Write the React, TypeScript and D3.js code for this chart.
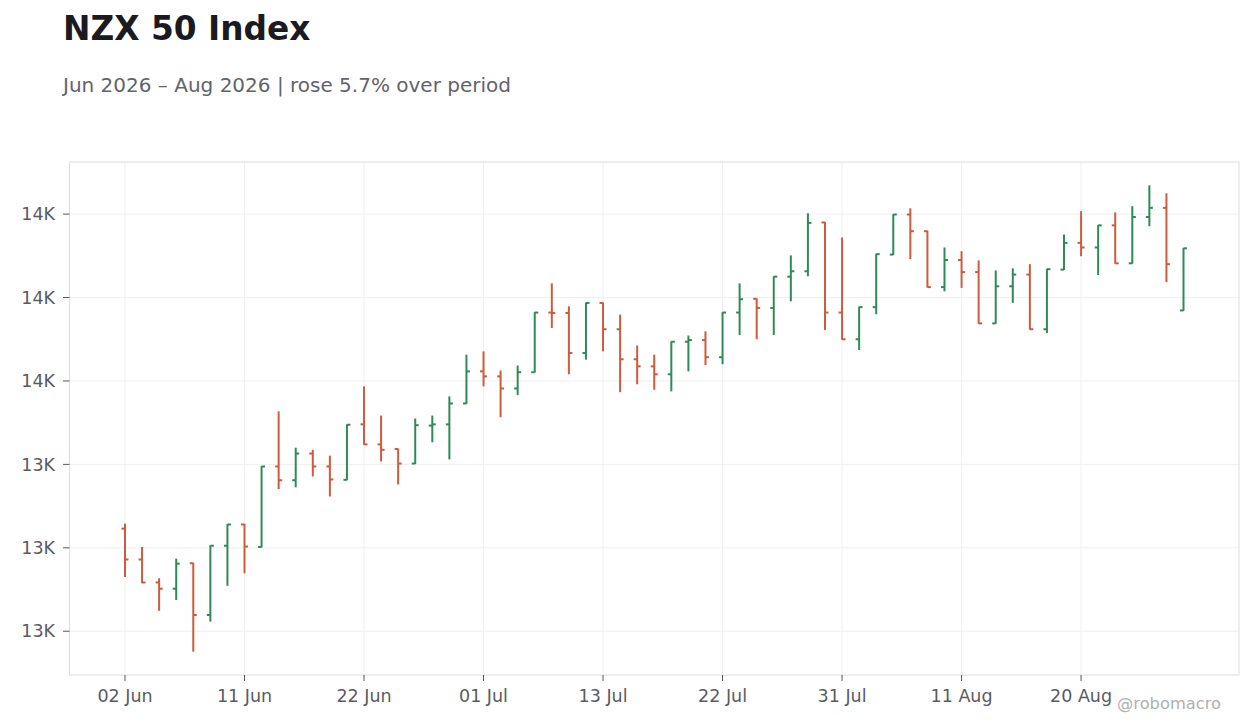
import * as d3 from "d3";
import { useEffect } from "react";

// trading days (NZX, Jun–Aug 2026; 01 Jun King's Birthday and 10 Jul Matariki closed)
const dates = [
  "2026-06-02", "2026-06-03", "2026-06-04", "2026-06-05",
  "2026-06-08", "2026-06-09", "2026-06-10", "2026-06-11", "2026-06-12",
  "2026-06-15", "2026-06-16", "2026-06-17", "2026-06-18", "2026-06-19",
  "2026-06-22", "2026-06-23", "2026-06-24", "2026-06-25", "2026-06-26",
  "2026-06-29", "2026-06-30", "2026-07-01", "2026-07-02", "2026-07-03",
  "2026-07-06", "2026-07-07", "2026-07-08", "2026-07-09",
  "2026-07-13", "2026-07-14", "2026-07-15", "2026-07-16", "2026-07-17",
  "2026-07-20", "2026-07-21", "2026-07-22", "2026-07-23", "2026-07-24",
  "2026-07-27", "2026-07-28", "2026-07-29", "2026-07-30", "2026-07-31",
  "2026-08-03", "2026-08-04", "2026-08-05", "2026-08-06", "2026-08-07",
  "2026-08-10", "2026-08-11", "2026-08-12", "2026-08-13", "2026-08-14",
  "2026-08-17", "2026-08-18", "2026-08-19", "2026-08-20", "2026-08-21",
  "2026-08-24", "2026-08-25", "2026-08-26", "2026-08-27", "2026-08-28",
];

const opens = [
  13246, 13172, 13117, 13102, 13163, 13039, 13205, 13256, 13202, 13395,
  13362, 13426, 13395, 13363, 13496, 13448, 13437, 13402, 13493, 13496,
  13546, 13623, 13611, 13582, 13621, 13764, 13763, 13667, 13787, 13724,
  13652, 13635, 13616, 13694, 13698, 13657, 13764, 13797, 13775, 13850,
  13863, 13980, 13764, 13700, 13777, 13903, 13999, 13959, 13825, 13890,
  13861, 13738, 13827, 13855, 13724, 13867, 13931, 13920, 13973, 13882,
  13993, 14015, 13769,
];
const highs = [
  13258, 13202, 13127, 13174, 13164, 13206, 13257, 13257, 13396, 13527,
  13440, 13435, 13421, 13496, 13587, 13517, 13438, 13510, 13517, 13563,
  13663, 13671, 13625, 13637, 13765, 13834, 13779, 13788, 13788, 13759,
  13685, 13663, 13695, 13709, 13719, 13765, 13834, 13798, 13851, 13901,
  14002, 13981, 13944, 13778, 13905, 14000, 14014, 13960, 13920, 13911,
  13889, 13865, 13870, 13880, 13869, 13951, 14007, 13974, 14004, 14019,
  14069, 14050, 13919,
];
const lows = [
  13130, 13115, 13049, 13075, 12951, 13023, 13109, 13139, 13201, 13341,
  13345, 13371, 13323, 13362, 13447, 13407, 13352, 13401, 13453, 13412,
  13545, 13587, 13513, 13566, 13620, 13727, 13616, 13651, 13671, 13573,
  13592, 13579, 13575, 13623, 13638, 13640, 13710, 13700, 13710, 13791,
  13851, 13722, 13699, 13674, 13760, 13902, 13892, 13824, 13815, 13823,
  13737, 13737, 13787, 13723, 13715, 13866, 13899, 13854, 13881, 13881,
  13971, 13837, 13768,
];
const closes = [
  13172, 13117, 13102, 13162, 13039, 13205, 13256, 13203, 13395, 13362,
  13426, 13395, 13364, 13495, 13448, 13435, 13402, 13494, 13496, 13546,
  13623, 13611, 13582, 13621, 13764, 13763, 13667, 13787, 13724, 13652,
  13635, 13616, 13694, 13698, 13657, 13764, 13796, 13775, 13850, 13863,
  13979, 13764, 13700, 13777, 13904, 13999, 13959, 13825, 13890, 13861,
  13738, 13827, 13855, 13724, 13868, 13931, 13920, 13973, 13882, 13993,
  14015, 13880, 13918,
];

const tickDates = [
  "2026-06-02", "2026-06-11", "2026-06-22", "2026-07-01", "2026-07-13",
  "2026-07-22", "2026-07-31", "2026-08-11", "2026-08-20",
];

const W = 1260;
const H = 728;
const margin = { left: 69.5, right: 1239, top: 162, bottom: 675 };
const FONT = "'DejaVu Sans', sans-serif";
const UP = "#2e8b57";
const DOWN = "#cc5c3b";

export default function App() {
  useEffect(() => {
    document.body.style.margin = "0";
  }, []);

  const bars = dates.map((d, i) => ({
    date: d,
    open: opens[i],
    high: highs[i],
    low: lows[i],
    close: closes[i],
  }));

  const x = d3
    .scalePoint<string>()
    .domain(dates)
    .range([margin.left, margin.right])
    .padding(3.25);

  const lo = d3.min(lows)!;
  const hi = d3.max(highs)!;
  const pad = (hi - lo) * 0.05;
  const y = d3
    .scaleLinear()
    .domain([lo - pad, hi + pad])
    .range([margin.bottom, margin.top]);

  const yTicks = y.ticks(6);
  const fmtY = (v: number) => d3.format(".2s")(v).replace("k", "K");
  const parse = d3.timeParse("%Y-%m-%d");
  const fmtX = d3.timeFormat("%d %b");

  const change = (closes[closes.length - 1] / closes[0] - 1) * 100;
  const subtitle = `Jun 2026 – Aug 2026 | ${change >= 0 ? "rose" : "fell"} ${Math.abs(change).toFixed(1)}% over period`;

  const tick = 3.5;

  return (
    <svg
      width={W}
      height={H}
      style={{ position: "absolute", left: 0, top: 0, display: "block", background: "#fff" }}
      fontFamily={FONT}
    >
      <text x={63} y={40} fontSize={32.8} fontWeight="bold" fill="#1b1b1f">
        NZX 50 Index
      </text>
      <text x={63} y={92} fontSize={20} fill="#62636b">
        {subtitle}
      </text>

      {/* grid */}
      <g stroke="#efefef" strokeWidth={1}>
        {tickDates.map((d) => (
          <line key={d} x1={x(d)} x2={x(d)} y1={margin.top} y2={margin.bottom} />
        ))}
        {yTicks.map((t) => (
          <line key={t} x1={margin.left} x2={margin.right} y1={y(t)} y2={y(t)} />
        ))}
      </g>
      <rect
        x={margin.left}
        y={margin.top}
        width={margin.right - margin.left}
        height={margin.bottom - margin.top}
        fill="none"
        stroke="#dedede"
      />

      {/* y axis */}
      <g>
        {yTicks.map((t) => (
          <g key={t}>
            <line x1={63} x2={margin.left} y1={y(t)} y2={y(t)} stroke="#555" />
            <text
              x={55}
              y={y(t)}
              dy="0.35em"
              textAnchor="end"
              fontSize={17.5}
              fill="#5a5b63"
            >
              {fmtY(t)}
            </text>
          </g>
        ))}
      </g>

      {/* x axis */}
      <g>
        {tickDates.map((d) => (
          <g key={d}>
            <line x1={x(d)} x2={x(d)} y1={margin.bottom} y2={margin.bottom + 6} stroke="#555" />
            <text
              x={x(d)}
              y={702}
              textAnchor="middle"
              fontSize={17.5}
              fill="#5a5b63"
            >
              {fmtX(parse(d)!)}
            </text>
          </g>
        ))}
      </g>

      {/* OHLC bars */}
      <g strokeWidth={2}>
        {bars.map((b) => {
          const cx = x(b.date)!;
          const c = b.close >= b.open ? UP : DOWN;
          return (
            <g key={b.date} stroke={c}>
              <line x1={cx} x2={cx} y1={y(b.high)} y2={y(b.low)} />
              <line x1={cx - tick} x2={cx} y1={y(b.open)} y2={y(b.open)} />
              <line x1={cx} x2={cx + tick} y1={y(b.close)} y2={y(b.close)} />
            </g>
          );
        })}
      </g>

      <text x={1221} y={709} textAnchor="end" fontSize={16.3} fill="#b0b0b0">
        @robomacro
      </text>
    </svg>
  );
}
